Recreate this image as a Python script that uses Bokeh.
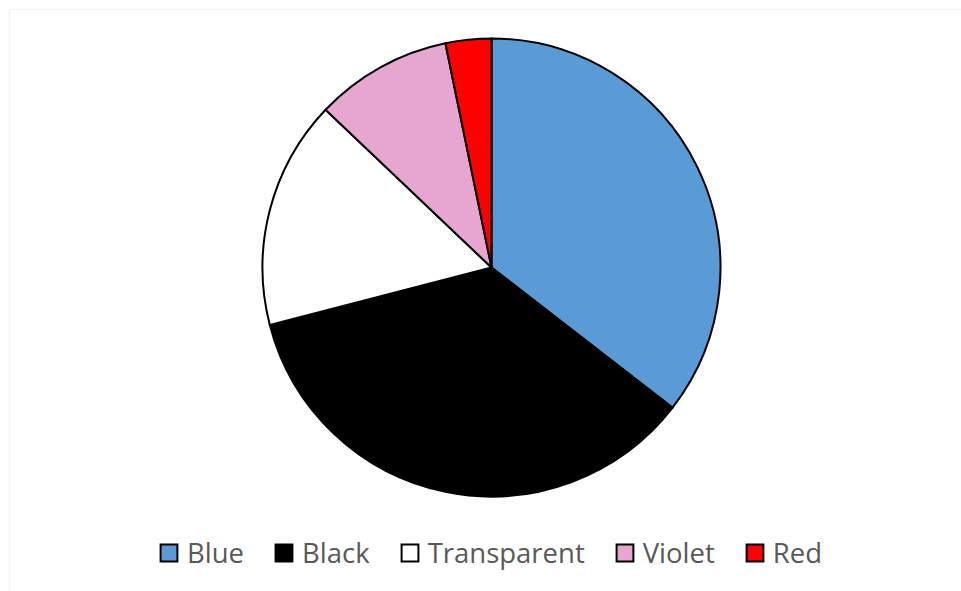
import numpy as np
from bokeh.plotting import figure
from bokeh.models import ColumnDataSource, Range1d, Legend, LegendItem, BoxAnnotation
from bokeh.embed import file_html
from bokeh.resources import INLINE

categories = ["Blue", "Black", "Transparent", "Violet", "Red"]
values = [11, 11, 5, 3, 1]
colors = ["#5b9bd5", "#000000", "#ffffff", "#e7a6d0", "#ff0000"]

vals = np.array(values, dtype=float)
frac = vals / vals.sum()
cum_end = np.cumsum(frac) * 2 * np.pi
cum_start = cum_end - frac * 2 * np.pi
start = np.pi / 2 - cum_start
end = np.pi / 2 - cum_end

src = ColumnDataSource(dict(cat=categories, start=start, end=end, color=colors))

W, H = 961, 591
p = figure(width=W, height=H, output_backend="svg", toolbar_location=None,
           x_range=Range1d(0, W), y_range=Range1d(-H, 0),
           min_border=0, min_border_left=0, min_border_right=0,
           min_border_top=0, min_border_bottom=0)
p.axis.visible = False
p.grid.visible = False
p.outline_line_color = None
p.background_fill_color = "white"

cx, cy, r = 491, -267, 229
wr = p.wedge(x=cx, y=cy, radius=r, start_angle="start", end_angle="end",
             direction="clock", fill_color="color", line_color="black",
             line_width=2, line_join="miter", source=src)

box = BoxAnnotation(left=9, top=H - 9, right=3000, bottom=-3000,
                    left_units="screen", right_units="screen",
                    top_units="screen", bottom_units="screen",
                    fill_color=None, line_color="#d9d9d9", line_width=1.5)
p.add_layout(box)

items = [LegendItem(label=c, renderers=[wr], index=i) for i, c in enumerate(categories)]
legend = Legend(items=items, orientation="horizontal", location=(158, 20),
                glyph_width=21, glyph_height=21, label_standoff=8, spacing=29,
                padding=0, margin=0, border_line_color=None,
                background_fill_alpha=0,
                label_text_font="Open Sans", label_text_font_size="27.5px",
                label_text_color="#595959")
p.add_layout(legend)

open("out.html", "w").write(file_html(p, INLINE))
